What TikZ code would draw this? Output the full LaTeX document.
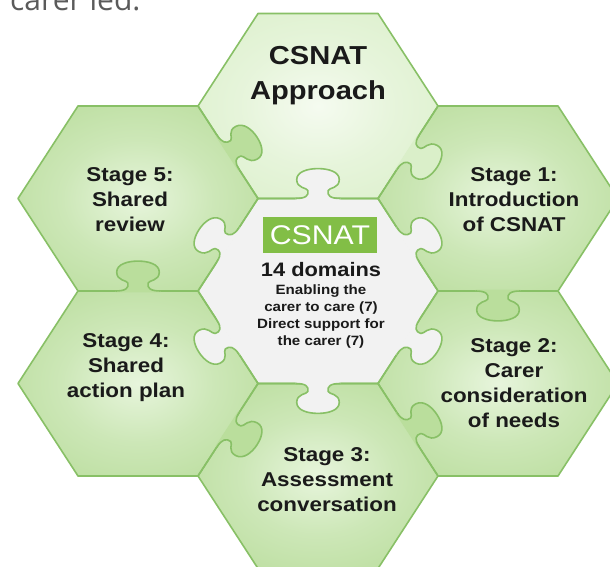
\documentclass[tikz,border=0pt]{standalone}
\usepackage{fontspec}
\setmainfont{Liberation Sans}
\newfontfamily\opensans{Open Sans}
\usepackage{graphicx}
\definecolor{ringin}{HTML}{E7F5DC}
\definecolor{ringout}{HTML}{B2D992}
\colorlet{ringmid}{ringin!50!ringout}
\definecolor{topin}{HTML}{F5FBF0}
\definecolor{topout}{HTML}{D8EEC6}
\colorlet{topmid}{topin!50!topout}
\definecolor{centerfill}{HTML}{F2F2F2}
\definecolor{ringtab}{HTML}{BADE9C}
\definecolor{toptab}{HTML}{DAEFC9}
\definecolor{edgegreen}{HTML}{88C066}
\definecolor{boxgreen}{HTML}{82BE46}
\definecolor{ink}{HTML}{1A1A1A}
\definecolor{capgray}{HTML}{5A5A5A}
\pgfdeclareradialshading{ringshade}{\pgfpoint{0bp}{0bp}}{color(0bp)=(ringin);color(16bp)=(ringmid);color(40bp)=(ringout);color(80bp)=(ringout)}
\pgfdeclareradialshading{topshade}{\pgfpoint{0bp}{0bp}}{color(0bp)=(topin);color(16bp)=(topmid);color(40bp)=(topout);color(80bp)=(topout)}
\tikzset{
  edge/.style={draw=edgegreen, line width=1.6pt, line join=round},
  lbl/.style={inner sep=0pt, anchor=base, text=ink}
}
\newcommand\stk[3]{\scalebox{1.12}[1]{\fontsize{#1}{#2}\selectfont\bfseries\begin{tabular}[t]{@{}c@{}}#3\end{tabular}}}
\newcommand\ptab[4]{%
  \begin{scope}[shift={(#1,#2)},rotate=#3,shift={(103.923,0)},scale=1.12]
    \fill[#4] (-1.5,-20) -- (0,-20) .. controls (0,-11) and (3,-8) .. (8,-9)
      .. controls (11,-10) and (10,-19) .. (19,-19)
      .. controls (27,-19) and (30,-9) .. (30,0)
      .. controls (30,9) and (27,19) .. (19,19)
      .. controls (10,19) and (11,10) .. (8,9)
      .. controls (3,8) and (0,11) .. (0,20) -- (-1.5,20) -- cycle;
    \draw[edge] (0,-20) .. controls (0,-11) and (3,-8) .. (8,-9)
      .. controls (11,-10) and (10,-19) .. (19,-19)
      .. controls (27,-19) and (30,-9) .. (30,0)
      .. controls (30,9) and (27,19) .. (19,19)
      .. controls (10,19) and (11,10) .. (8,9)
      .. controls (3,8) and (0,11) .. (0,20);
  \end{scope}}
\begin{document}
\begin{tikzpicture}[x=1pt,y=1pt]
\useasboundingbox (0,0) rectangle (610,567);
\fill[white] (0,0) rectangle (610,567);
\node[anchor=base west, inner sep=0pt, text=capgray] (cap) at (10,556) {\opensans\fontsize{30}{30}\selectfont carer led.};
\begin{scope}[shift={(318,276)}, yscale=0.89]
  % fills
  \shade[shading=topshade] (0,207.846) +(0:120) -- +(60:120) -- +(120:120) -- +(180:120) -- +(240:120) -- +(300:120) -- cycle;
  \foreach \hx/\hy in {180/103.923, 180/-103.923, 0/-207.846, -180/-103.923, -180/103.923}{
    \shade[shading=ringshade] (\hx,\hy) +(0:120) -- +(60:120) -- +(120:120) -- +(180:120) -- +(240:120) -- +(300:120) -- cycle;
  }
  \fill[centerfill] (0,0) +(0:120) -- +(60:120) -- +(120:120) -- +(180:120) -- +(240:120) -- +(300:120) -- cycle;
  % outlines
  \foreach \hx/\hy in {0/0, 0/207.846, 180/103.923, 180/-103.923, 0/-207.846, -180/-103.923, -180/103.923}{
    \draw[edge] (\hx,\hy) +(0:120) -- +(60:120) -- +(120:120) -- +(180:120) -- +(240:120) -- +(300:120) -- cycle;
  }
  % tabs of the centre piece
  \foreach \a in {90,30,-30,-90,-150,150}{\ptab{0}{0}{\a}{centerfill}}
  % tabs of the ring
  \ptab{0}{207.846}{-30}{toptab}
  \ptab{180}{103.923}{-90}{ringtab}
  \ptab{0}{-207.846}{30}{ringtab}
  \ptab{-180}{-103.923}{-30}{ringtab}
  \ptab{-180}{-103.923}{90}{ringtab}
  \ptab{-180}{103.923}{30}{ringtab}
\end{scope}
\node[lbl] (approach) at (318,502) {\stk{26}{35}{CSNAT\\Approach}};
\node[lbl] (s5) at (130,385) {\stk{20}{25}{Stage 5:\\Shared\\review}};
\node[lbl] (s1) at (514,385) {\stk{20}{25}{Stage 1:\\Introduction\\of CSNAT}};
\node[lbl] (s2) at (514,214) {\stk{20}{25}{Stage 2:\\Carer\\consideration\\of needs}};
\node[lbl] (s4) at (126,219) {\stk{20}{25}{Stage 4:\\Shared\\action plan}};
\node[lbl] (s3) at (327,105) {\stk{20}{25}{Stage 3:\\Assessment\\conversation}};
\node[fill=boxgreen, minimum width=114pt, minimum height=36pt, inner sep=0pt] (box) at (320,332) {\scalebox{1.12}[1]{\fontsize{27}{27}\selectfont\color{white}CSNAT}};
\node[lbl] (dom) at (321,290) {\stk{19.5}{20}{14 domains}};
\node[lbl] (sub) at (321,272) {\stk{13.5}{17}{Enabling the\\carer to care (7)\\Direct support for\\the carer (7)}};
\end{tikzpicture}
\end{document}
